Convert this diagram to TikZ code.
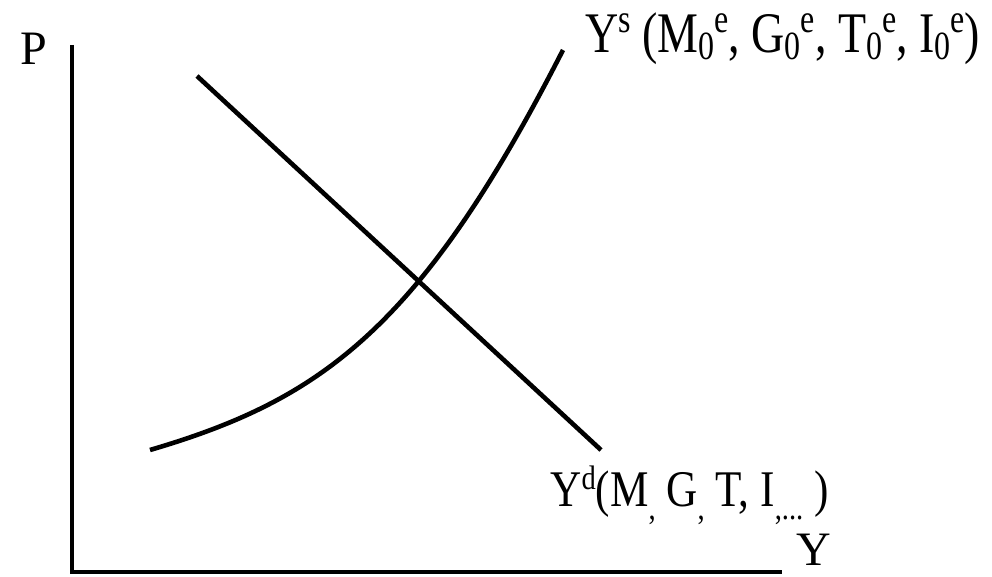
\documentclass[tikz,border=0pt]{standalone}
\usepackage{fontspec}
\setmainfont{Liberation Serif}
\newfontfamily\tallfont{Liberation Serif}[FakeStretch=0.8]
\newfontfamily\narrowfont{Liberation Serif}[FakeStretch=0.84]
\usetikzlibrary{positioning,calc}
\newcommand{\scriptfnt}{}
\newcommand{\supr}[1]{\raisebox{0.35em}{\scriptfnt #1}}
\newcommand{\subr}[1]{\raisebox{-0.12em}{\scriptfnt #1}}

\begin{document}
\begin{tikzpicture}[x=0.5pt,y=-0.5pt,
  every node/.style={inner sep=0pt},
  axlbl/.style={font=\fontsize{24}{28}\selectfont},
  toplbl/.style={font={\tallfont\fontsize{28.7}{32}\selectfont\def\scriptfnt{\fontsize{20}{20}\selectfont}}},
  botlbl/.style={font={\narrowfont\fontsize{25.7}{30}\selectfont\def\scriptfnt{\fontsize{17}{17}\selectfont}}},
  ax/.style={line width=2.3pt},
  cv/.style={line width=2.3pt}]
\useasboundingbox (0,0) rectangle (992,577);
% axes
\coordinate (ytop) at (72,45);
\coordinate (xend) at (782,572);
\draw[ax] (ytop) |- (xend);
\node[axlbl,anchor=base west] (lp) at (20,65) {P};
\node[axlbl,anchor=base west] (ly) at (796,566) {Y};
% demand
\coordinate (d1) at (197,76);
\coordinate (d2) at (601,450);
\draw[cv] (d1) -- (d2);
\node[botlbl,anchor=base west] (ld) at (550,507) {Y\supr{d}(M\raisebox{-0.25em}{\scriptfnt,} G\raisebox{-0.25em}{\scriptfnt,} T, I\raisebox{-0.25em}{\scriptfnt,...} )};
% supply
\coordinate (s1) at (150,450);
\coordinate (s2) at (563,50);
\draw[cv] (s1) .. controls (320,400) and (420,330) .. (s2);
\node[toplbl,anchor=base west] (ls) at (585,53) {Y\supr{s} (M\subr{0}\supr{e}, G\subr{0}\supr{e}, T\subr{0}\supr{e}, I\subr{0}\supr{e})};
\end{tikzpicture}
\end{document}
